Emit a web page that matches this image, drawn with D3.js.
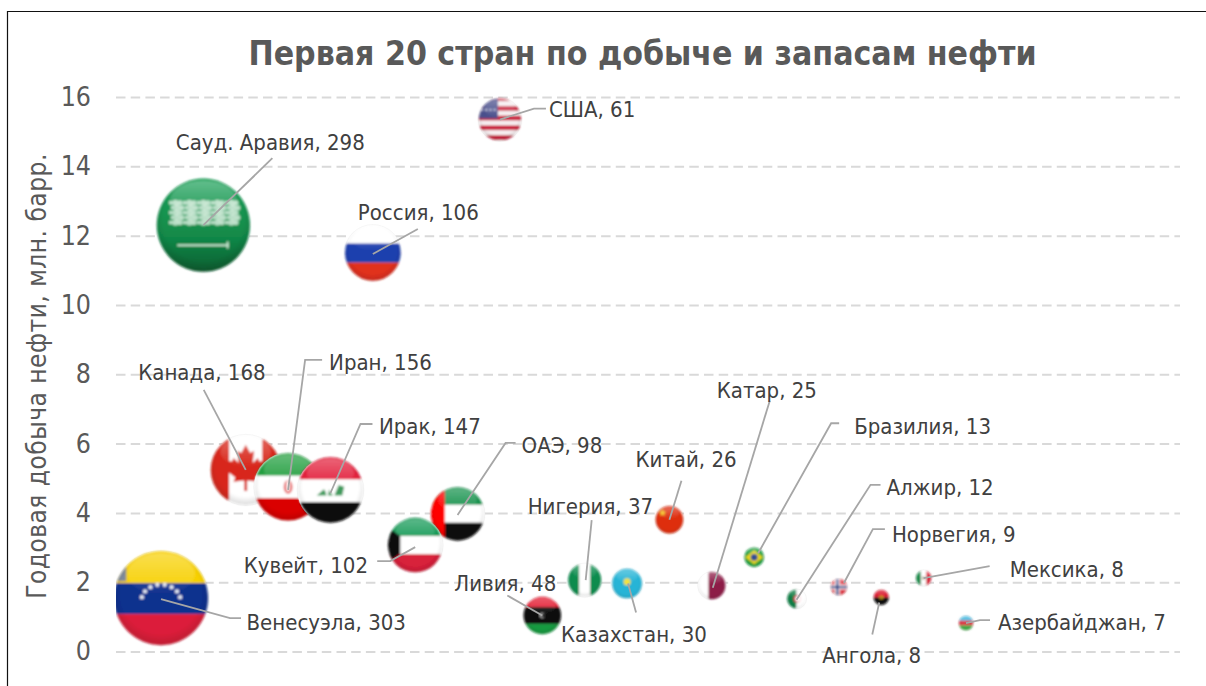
<!DOCTYPE html>
<html><head><meta charset="utf-8">
<script src="https://d3js.org/d3.v7.min.js"></script>
<style>
html,body{margin:0;padding:0;background:#fff;overflow:hidden}
svg{display:block}
text{font-family:"DejaVu Sans Condensed","DejaVu Sans";font-stretch:condensed}
</style></head><body>
<svg id="c" width="1206" height="686"></svg>
<script>
const titleText = "Первая 20 стран по добыче и запасам нефти";
const yAxisTitle = "Годовая добыча нефти, млн. барр.";
const countries = ["Венесуэла","Сауд. Аравия","Канада","Иран","Ирак","Россия","Кувейт","ОАЭ","США","Ливия","Нигерия","Казахстан","Китай","Катар","Бразилия","Алжир","Норвегия","Ангола","Мексика","Азербайджан"];
const reserves = [303,298,168,156,147,106,102,98,61,48,37,30,26,25,13,12,9,8,8,7];
const production = [1.54,12.3,5.24,4.75,4.66,11.5,3.07,3.97,15.35,1.04,2.06,1.96,3.8,1.9,2.72,1.52,1.86,1.56,2.12,0.82];
const yTicks = [0,2,4,6,8,10,12,14,16];

// annotation layout (offsets from each bubble centre): label [dx,dy], leader polyline
const labelLayout = {
 "Венесуэла":[[85.5,24],[[0,1],[69,20],[80,20]]],
 "Сауд. Аравия":[[-27.5,-83],[[0,0],[69,-67]]],
 "Канада":[[-107.5,-97],[[0,0],[-42,-80]]],
 "Иран":[[41,-124],[[0,3],[17,-127],[34,-127]]],
 "Ирак":[[48.5,-64],[[0,3],[30,-66],[42,-66]]],
 "Россия":[[-15,-40],[[0,1],[45,-24]]],
 "Кувейт":[[-171.5,20],[[0,2],[-25,16],[-38,16]]],
 "ОАЭ":[[64,-68],[[0,1],[48,-71],[58,-71]]],
 "США":[[49,-10],[[0,0],[34,-11],[46,-11]]],
 "Ливия":[[-88,-32],[[0,0],[-35,-20]]],
 "Нигерия":[[-57,-74],[[1,0],[7,-60]]],
 "Казахстан":[[-66,51],[[1,0],[9,29]]],
 "Китай":[[-34,-60],[[0,0],[12,-39]]],
 "Катар":[[5,-195],[[1,2],[58,-185]]],
 "Бразилия":[[100,-131],[[4,-4],[77,-134],[85,-134]]],
 "Алжир":[[90,-111],[[0,1],[74,-114],[84,-114]]],
 "Норвегия":[[53,-53],[[5,-4],[34,-58],[46,-58]]],
 "Ангола":[[-59,58],[[-2,5],[-9,37]]],
 "Мексика":[[86,-9],[[0,0],[66,-12]]],
 "Азербайджан":[[32,-1],[[0,0],[14,-3],[24,-3]]]
};

const svg = d3.select("#c");
const defs = svg.append("defs");
const plot = {left:116,right:1180,top:97,bottom:651.5};
const x = d3.scalePoint(countries,[161,966]);
const y = d3.scaleLinear([0,16],[plot.bottom,plot.top]);
const r = d3.scaleSqrt([0,303],[0,47]);

// frame
svg.append("path").attr("d","M7.5 686V11.5H1206").attr("fill","none").attr("stroke","#111").attr("stroke-width",1.2);

// title
svg.append("text").attr("x",642.5).attr("y",53).attr("text-anchor","middle").attr("dominant-baseline","central")
 .attr("font-size",33.5).attr("font-weight",700).attr("fill","#595959").text(titleText);

// grid + axis
const yAxis = d3.axisLeft(y).tickValues(yTicks).tickSize(-(plot.right-plot.left)).tickPadding(25);
const ga = svg.append("g").attr("transform",`translate(${plot.left},0)`).call(yAxis);
ga.select(".domain").remove();
ga.selectAll(".tick line").attr("stroke","#d9d9d9").attr("stroke-width",2).attr("stroke-dasharray","9.5 5.2");
ga.selectAll(".tick text").attr("font-size",26.5).attr("fill","#595959").attr("font-family",null);
ga.attr("font-family",null);

svg.append("text").attr("transform","translate(37,376) rotate(-90)").attr("text-anchor","middle").attr("dominant-baseline","central")
 .attr("font-size",26).attr("letter-spacing",0.5).attr("fill","#595959").text(yAxisTitle);

// gradients
const shadeGrad = defs.append("radialGradient").attr("id","shade").attr("cx","50%").attr("cy","45%").attr("r","55%");
shadeGrad.append("stop").attr("offset","0.78").attr("stop-color","#000").attr("stop-opacity",0);
shadeGrad.append("stop").attr("offset","1").attr("stop-color","#000").attr("stop-opacity",0.14);
const glossGrad = defs.append("linearGradient").attr("id","gloss").attr("x1",0).attr("y1",0).attr("x2",0).attr("y2",1);
glossGrad.append("stop").attr("offset",0).attr("stop-color","#fff").attr("stop-opacity",0.3);
glossGrad.append("stop").attr("offset",1).attr("stop-color","#fff").attr("stop-opacity",0);
const sg = defs.append("linearGradient").attr("id","saudi").attr("x1",0).attr("y1",0).attr("x2",0).attr("y2",1);
sg.append("stop").attr("offset",0).attr("stop-color","#1fa45c");
sg.append("stop").attr("offset",0.6).attr("stop-color","#128a49");
sg.append("stop").attr("offset",1).attr("stop-color","#0a5a2e");
defs.append("filter").attr("id","soft").attr("x","-20%").attr("y","-20%").attr("width","140%").attr("height","140%")
 .append("feGaussianBlur").attr("stdDeviation",0.8);
defs.append("clipPath").attr("id","unit").append("circle").attr("r",1);
defs.append("clipPath").attr("id","plotClip").append("rect").attr("x",plot.left).attr("y",0).attr("width",plot.right-plot.left).attr("height",686);

// flag helpers in unit coordinates
const rc=(g,x0,y0,w,h,f)=>g.append("rect").attr("x",x0).attr("y",y0).attr("width",w).attr("height",h).attr("fill",f);
const hs=(g,bands)=>{let p=-1.1;bands.forEach(([c,e])=>{rc(g,-1.1,p,2.2,e-p,c);p=e;});};
const vs=(g,bands)=>{let p=-1.1;bands.forEach(([c,e])=>{rc(g,p,-1.1,e-p,2.2,c);p=e;});};
const pg=(g,d,f)=>g.append("path").attr("d",d).attr("fill",f);
const star=(cx,cy,R)=>{let s="";for(let i=0;i<10;i++){const a=-Math.PI/2+i*Math.PI/5,q=i%2?R*0.4:R;s+=(i?"L":"M")+(cx+q*Math.cos(a))+" "+(cy+q*Math.sin(a));}return s+"Z";};
const flags = {
 "Венесуэла":g=>{hs(g,[["#f7d000",-0.32],["#10308e",0.34],["#dc1f3a",1.1]]);
   rc(g,-1,-0.72,0.26,0.36,"#7f8a9a");
   d3.range(8).forEach(i=>{const a=Math.PI*(1.08+i*0.12);g.append("circle").attr("cx",0.42*Math.cos(a)).attr("cy",0.07+0.36*Math.sin(a)).attr("r",0.045).attr("fill","#e8ecf5");});},
 "Сауд. Аравия":g=>{g.append("circle").attr("r",1.1).attr("fill","url(#saudi)");
   d3.range(-7,8).forEach(i=>d3.range(0,5).forEach(j=>{
     g.append("circle").attr("cx",i*0.1+(j%2)*0.04).attr("cy",-0.48+j*0.105).attr("r",0.068-((i*7+j*3)%3+3)%3*0.012).attr("fill","#d6ecdc").attr("fill-opacity",0.85);}));
   rc(g,-0.56,0.41,1.1,0.04,"#cfe9d5");rc(g,0.5,0.35,0.04,0.15,"#cfe9d5");},
 "Канада":g=>{vs(g,[["#d8281c",-0.47],["#ffffff",0.47],["#d8281c",1.1]]);
   pg(g,"M0 -0.72L0.13 -0.48L0.24 -0.55L0.2 -0.2L0.35 -0.34L0.39 -0.24L0.58 -0.27L0.5 -0.06L0.59 -0.01L0.3 0.22L0.35 0.34L0.04 0.3L0.04 0.6L-0.04 0.6L-0.04 0.3L-0.35 0.34L-0.3 0.22L-0.59 -0.01L-0.5 -0.06L-0.58 -0.27L-0.39 -0.24L-0.35 -0.34L-0.2 -0.2L-0.24 -0.55L-0.13 -0.48Z","#d8281c");},
 "Иран":g=>{hs(g,[["#239f40",-0.33],["#ffffff",0.33],["#da0000",1.1]]);
   g.append("ellipse").attr("rx",0.13).attr("ry",0.2).attr("fill","#e8696a");
   g.append("ellipse").attr("cy",-0.02).attr("rx",0.05).attr("ry",0.16).attr("fill","#fff");},
 "Ирак":g=>{hs(g,[["#e2203c",-0.32],["#ffffff",0.37],["#0e0e0e",1.1]]);
   pg(g,"M-0.42 0.17L-0.2 -0.02L-0.15 0.05L-0.12 0.17ZM-0.08 0.17L-0.04 -0.02L0.02 0.1L0.08 0.17ZM0.12 0.17L0.25 -0.15L0.42 -0.1L0.36 0.17Z","#3f9b5d");},
 "Россия":g=>{hs(g,[["#ffffff",-0.34],["#1e3fae",0.35],["#e1301e",1.1]]);},
 "Кувейт":g=>{hs(g,[["#159a57",-0.33],["#ffffff",0.33],["#d8203a",1.1]]);
   pg(g,"M-1.1 -0.72L-0.55 -0.33L-0.55 0.33L-1.1 0.72Z","#0b0b0b");},
 "ОАЭ":g=>{hs(g,[["#16924d",-0.34],["#ffffff",0.33],["#0c0c0c",1.1]]);rc(g,-1.1,-1.1,0.62,2.2,"#ff0000");},
 "США":g=>{d3.range(10).forEach(i=>rc(g,-1.1,-1.1+i*0.23,2.2,0.23,i%2?"#f6eef0":"#c9263f"));rc(g,-1.1,-1.1,1.0,1.05,"#4a4f8c");
   d3.range(4).forEach(i=>rc(g,-0.9+i*0.2,-0.5,0.1,0.08,"#cfd2e8"));},
 "Ливия":g=>{hs(g,[["#e3182e",-0.45],["#0c0c0c",0.45],["#159a40",1.1]]);g.append("circle").attr("r",0.13).attr("fill","#ddd");g.append("circle").attr("cx",0.04).attr("r",0.1).attr("fill","#111");},
 "Нигерия":g=>{vs(g,[["#0b8c4e",-0.33],["#ffffff",0.33],["#0b8c4e",1.1]]);},
 "Казахстан":g=>{g.append("circle").attr("r",1.1).attr("fill","#26b4d6");g.append("circle").attr("cy",-0.12).attr("r",0.24).attr("fill","#f2e13a");},
 "Китай":g=>{g.append("circle").attr("r",1.1).attr("fill","#de2e10");pg(g,star(-0.5,-0.5,0.3),"#f5c518");},
 "Катар":g=>{vs(g,[["#ffffff",-0.25],["#8d1b47",1.1]]);},
 "Бразилия":g=>{g.append("circle").attr("r",1.1).attr("fill","#169c3c");pg(g,"M0 -0.72L0.9 0L0 0.72L-0.9 0Z","#f2d816");g.append("circle").attr("r",0.36).attr("fill","#2f4d94");},
 "Алжир":g=>{vs(g,[["#0f7d44",0],["#ffffff",1.1]]);g.append("circle").attr("cx",0.05).attr("r",0.38).attr("fill","#d8203a");g.append("circle").attr("cx",0.15).attr("r",0.3).attr("fill","#fff");},
 "Норвегия":g=>{g.append("circle").attr("r",1.1).attr("fill","#dc3340");rc(g,-1.1,-0.3,2.2,0.6,"#fff");rc(g,-0.5,-1.1,0.6,2.2,"#fff");rc(g,-1.1,-0.14,2.2,0.28,"#2c3f86");rc(g,-0.34,-1.1,0.28,2.2,"#2c3f86");},
 "Ангола":g=>{hs(g,[["#d9142a",0],["#0b0b0b",1.1]]);g.append("circle").attr("r",0.24).attr("fill","#f3c71b");g.append("circle").attr("r",0.12).attr("fill","#111");},
 "Мексика":g=>{vs(g,[["#1a8a4a",-0.33],["#ffffff",0.33],["#d8263a",1.1]]);g.append("circle").attr("r",0.2).attr("fill","#9a8a60");},
 "Азербайджан":g=>{hs(g,[["#38b4de",-0.33],["#dc3545",0.33],["#3fa845",1.1]]);}
};

// bubbles (later drawn overlap earlier; Kuwait sits over UAE)
const drawOrder = countries.map((_,i)=>i).sort((a,b)=>{
  const k=n=>n==="Кувейт"?7.5:countries.indexOf(n);
  return k(countries[a])-k(countries[b]);});
const bubbles = svg.append("g").attr("clip-path","url(#plotClip)");
drawOrder.forEach(i=>{
  const name=countries[i], R=r(reserves[i]);
  const g=bubbles.append("g").attr("transform",`translate(${x(name)},${y(production[i])})`);
  g.append("circle").attr("r",R+0.5).attr("fill","#fff").attr("stroke","#ccc").attr("stroke-opacity",0.4).attr("stroke-width",0.6);
  const inner=g.append("g").attr("filter","url(#soft)").append("g").attr("transform",`scale(${R})`).attr("clip-path","url(#unit)");
  flags[name](inner);
  inner.append("circle").attr("r",1).attr("fill","url(#shade)");
  inner.append("ellipse").attr("cy",-0.52).attr("rx",0.72).attr("ry",0.44).attr("fill","url(#gloss)");
});

// leaders and labels
const leader=d3.line();
countries.forEach((name,i)=>{
  const cx=x(name), cy=y(production[i]), [lab,pts]=labelLayout[name];
  svg.append("path").attr("d",leader(pts.map(([a,b])=>[cx+a,cy+b]))).attr("fill","none").attr("stroke","#a6a6a6").attr("stroke-width",1.8);
  svg.append("text").attr("x",cx+lab[0]).attr("y",cy+lab[1]).attr("dominant-baseline","central").attr("font-size",22).attr("fill","#404040")
    .text(`${name}, ${reserves[i]}`);
});
</script></body></html>
